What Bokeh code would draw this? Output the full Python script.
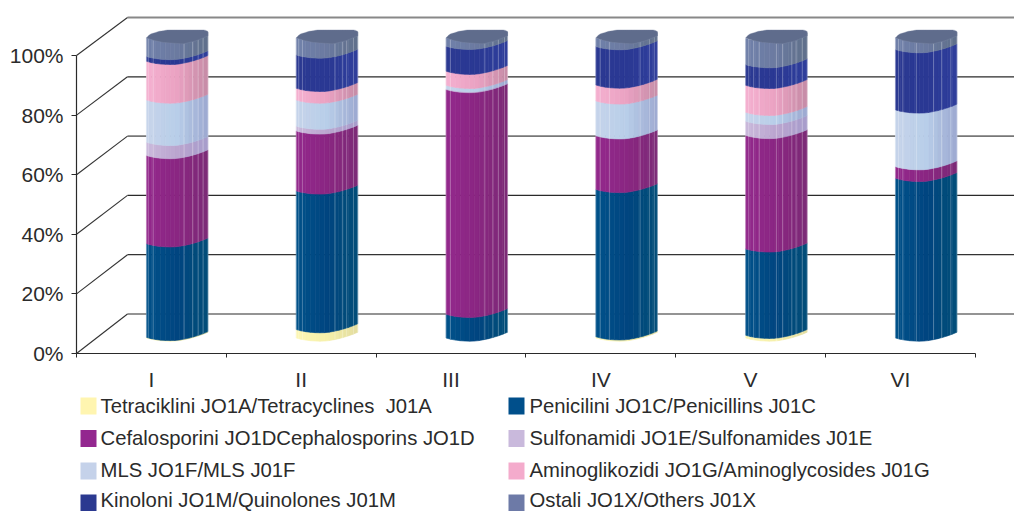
import numpy as np
from bokeh.embed import file_html
from bokeh.models import (ColumnDataSource, FixedTicker, Label, LinearAxis, PrintfTickFormatter, Range1d)
from bokeh.plotting import figure
from bokeh.resources import INLINE

# Share of each antibiotic group per period, in percent, bottom of the stack first
periods = ["I", "II", "III", "IV", "V", "VI"]
tetracyclines = [0.2, 2.8, 0.0, 0.4, 0.9, 0.0]
penicillins = [31.2, 46.2, 7.9, 49.1, 28.8, 53.2]
cephalosporins = [29.4, 20.0, 74.9, 17.9, 37.8, 3.9]
sulfonamides = [4.4, 1.6, 0.3, 0.0, 4.7, 0.0]
mls = [14.1, 8.7, 1.1, 11.6, 3.0, 18.9]
aminoglycosides = [12.9, 3.9, 4.7, 5.3, 9.0, 0.0]
quinolones = [1.6, 11.1, 8.3, 12.8, 6.9, 20.1]
others = [6.2, 5.7, 2.8, 2.8, 8.7, 3.9]

series = [tetracyclines, penicillins, cephalosporins, sulfonamides,
          mls, aminoglycosides, quinolones, others]

legend_labels = [
    "Tetraciklini JO1A/Tetracyclines\u00a0 J01A",
    "Penicilini JO1C/Penicillins J01C",
    "Cefalosporini JO1DCephalosporins JO1D",
    "Sulfonamidi JO1E/Sulfonamides J01E",
    "MLS JO1F/MLS J01F",
    "Aminoglikozidi JO1G/Aminoglycosides J01G",
    "Kinoloni JO1M/Quinolones J01M",
    "Ostali JO1X/Others J01X",
]
swatch_colors = ["#fff5b0", "#004f8b", "#93278f", "#c9b9dc",
                 "#c5d2ea", "#f4abcc", "#2b3990", "#6d7aa7"]

# Shading across a cylinder: left, centre and right tone of each group
shades = [
    ("#fdf7b4", "#f6f0aa", "#e3dc9e"),
    ("#00528a", "#004580", "#024e78"),
    ("#93288c", "#8a2682", "#7c2a76"),
    ("#c9b8db", "#bba5cf", "#a69ccb"),
    ("#c6d3ea", "#b8cee9", "#9ca8d0"),
    ("#f5b0d0", "#eaa2c2", "#c58ba6"),
    ("#2b3992", "#2a3893", "#2f3e9c"),
    ("#7080aa", "#6b7aa0", "#5f6f8a"),
]
cap_color = "#5f6c8c"

# Pixel geometry of the projected box
PX_X = 149.8
PX_Y = 2.98
WIDTH, HEIGHT = 1014, 511
ORIGIN_X, ORIGIN_Y = 76, 353
DEPTH_X = 51 / PX_X
DEPTH_Y = 39.5 / PX_Y
BACK_SCALE = 0.995
BAR_WIDTH = 61.5 / PX_X
BAR_OFFSET = 0.467
BAR_LIFT = 5.2
BAR_SCALE = 1.007


def data_x(px):
    return (px - ORIGIN_X) / PX_X


def data_y(py):
    return (ORIGIN_Y - py) / PX_Y


# Curves of the cylinder's visible faces, in pixels below its left edge
edge_t = [0, 0.08, 0.2, 0.35, 0.5, 0.62, 0.72, 0.85, 0.95, 1]
edge_px = [0, 1.3, 2.6, 3.2, 3.0, 1.6, 0.3, -2.2, -4.4, -5.8]
cap_front_t = [0, 0.12, 0.27, 0.6, 0.8, 1]
cap_front_px = [0, 2.5, 4.5, 6, 3, -2]
cap_back_t = [0, 0.05, 0.2, 0.35, 0.95, 1]
cap_back_px = [0, -3.5, -6.5, -8, -8, -6.5]

# Facet edges of the cylinder on each period
facet_lines = [
    [0.03, 0.11, 0.61, 0.75, 0.84, 0.92],
    [0.04, 0.1, 0.63, 0.75, 0.82, 0.93],
    [0.07, 0.63, 0.76, 0.85, 0.95],
    [0.07, 0.22, 0.72, 0.87, 0.95],
    [0.05, 0.13, 0.22, 0.5, 0.6, 0.75, 0.82, 0.92],
    [0.05, 0.12, 0.34, 0.62, 0.75, 0.9],
]
strip_edges = np.linspace(0, 1, 14)

back_line_colors = ["#2a2a2a", "#333333", "#2a2a2a", "#777777", "#2a2a2a", "#888888"]
back_line_widths = [1.2, 1.2, 1.2, 1.6, 1.2, 2.0]
y_ticks = [0, 20, 40, 60, 80, 100]
back_levels = [v * BACK_SCALE + DEPTH_Y for v in y_ticks]

p = figure(
    width=WIDTH, height=HEIGHT, output_backend="svg", toolbar_location=None,
    x_range=Range1d(data_x(0), data_x(WIDTH)),
    y_range=Range1d(data_y(HEIGHT), data_y(0)),
    x_axis_location=None, y_axis_location=None,
    min_border=0, min_border_left=0, min_border_right=0,
    min_border_top=0, min_border_bottom=0, outline_line_color=None,
)
p.grid.visible = False

# Back wall and left wall of the box
p.segment(x0=[DEPTH_X] * 6, y0=back_levels,
          x1=[data_x(WIDTH)] * 6, y1=back_levels,
          line_color=back_line_colors, line_width=back_line_widths)
p.segment(x0=[0] * 6, y0=y_ticks, x1=[DEPTH_X] * 6, y1=back_levels,
          line_color="#333333", line_width=1.1)


def blend(stops, t):
    rgb = [[int(c[i:i + 2], 16) for i in (1, 3, 5)] for c in stops]
    a, b, f = (rgb[0], rgb[1], t / 0.5) if t < 0.5 else (rgb[1], rgb[2], (t - 0.5) / 0.5)
    return "#%02x%02x%02x" % tuple(int(round(a[i] + (b[i] - a[i]) * f)) for i in range(3))


strip_x, strip_y, strip_color = [], [], []
line_x, line_y = [], []
cap_x, cap_y = [], []

for i in range(len(periods)):
    left = i + BAR_OFFSET
    stack = np.cumsum([0] + [s[i] for s in series])
    top = BAR_LIFT + 100 * BAR_SCALE
    for k in range(len(series)):
        if series[k][i] <= 0:
            continue
        lo = BAR_LIFT + stack[k] * BAR_SCALE
        hi = BAR_LIFT + stack[k + 1] * BAR_SCALE
        for t0, t1 in zip(strip_edges[:-1], strip_edges[1:]):
            d0 = np.interp(t0, edge_t, edge_px) / PX_Y
            d1 = np.interp(t1, edge_t, edge_px) / PX_Y
            x0, x1 = left + t0 * BAR_WIDTH, left + t1 * BAR_WIDTH
            strip_x.append([x0, x1, x1, x0])
            strip_y.append([lo - d0, lo - d1, hi - d1, hi - d0])
            strip_color.append(blend(shades[k], (t0 + t1) / 2))
    for t in [0, 1] + facet_lines[i]:
        x = left + t * BAR_WIDTH
        line_x.append([x, x])
        line_y.append([BAR_LIFT - np.interp(t, edge_t, edge_px) / PX_Y,
                       top - np.interp(t, cap_front_t, cap_front_px) / PX_Y])
    ts = np.linspace(0, 1, 30)
    back = top - np.interp(ts, cap_back_t, cap_back_px) / PX_Y
    front = top - np.interp(ts[::-1], cap_front_t, cap_front_px) / PX_Y
    cap_x.append(list(left + np.r_[ts, ts[::-1]] * BAR_WIDTH))
    cap_y.append(list(np.r_[back, front]))

p.patches("xs", "ys", source=ColumnDataSource(dict(xs=strip_x, ys=strip_y, c=strip_color)),
          fill_color="c", line_color="c", line_width=0.6)
p.multi_line(line_x, line_y, line_color="#ffffff", line_alpha=0.28, line_width=1)
p.patches(cap_x, cap_y, fill_color=cap_color, line_color="#7d89a6", line_width=0.7, line_alpha=0.5)

# Value axis on the front left edge
y_axis = LinearAxis(
    fixed_location=0, bounds=(0, 100),
    ticker=FixedTicker(ticks=y_ticks), formatter=PrintfTickFormatter(format="%d%%"),
    axis_line_color="#2a2a2a", axis_line_width=1.2,
    major_tick_line_color="#2a2a2a", major_tick_in=0, major_tick_out=5,
    minor_tick_line_color=None, major_label_standoff=8,
    major_label_text_font="Liberation Sans", major_label_text_font_size="21px",
    major_label_text_color="#2b2b2b",
)
p.add_layout(y_axis, "left")

# Period axis along the front floor edge: ticks between periods, labels at their centres
centres = [i + 0.5 for i in range(len(periods))]
x_axis = LinearAxis(
    fixed_location=0, bounds=(0, 6),
    ticker=FixedTicker(ticks=centres, minor_ticks=list(range(7))),
    major_label_overrides={c: name for c, name in zip(centres, periods)},
    axis_line_color="#2a2a2a", axis_line_width=1.2,
    major_tick_line_color=None, minor_tick_line_color="#2a2a2a",
    minor_tick_in=0, minor_tick_out=4, major_tick_in=0, major_tick_out=0,
    major_label_standoff=10,
    major_label_text_font="Liberation Sans", major_label_text_font_size="21px",
    major_label_text_color="#2b2b2b",
)
p.add_layout(x_axis, "below")

# Two-column legend below the chart
legend_cols = [(80, 100), (508, 529)]
legend_rows = [405, 437, 469, 499.5]
swatch_rows = [405.5, 438, 470.5, 502.5]
for n, (label, color) in enumerate(zip(legend_labels, swatch_colors)):
    sx, tx = legend_cols[n % 2]
    cy = legend_rows[n // 2]
    sy = swatch_rows[n // 2]
    p.quad(left=data_x(sx), right=data_x(sx + 16), top=data_y(sy - 8.5), bottom=data_y(sy + 8.5),
           fill_color=color, line_color=None)
    p.add_layout(Label(x=tx, y=HEIGHT - cy, x_units="screen", y_units="screen", text=label,
                       text_font="Liberation Sans", text_font_size="20.3px",
                       text_color="#2b2b2b", text_baseline="middle", text_align="left"))

open("out.html", "w").write(file_html(p, INLINE))
